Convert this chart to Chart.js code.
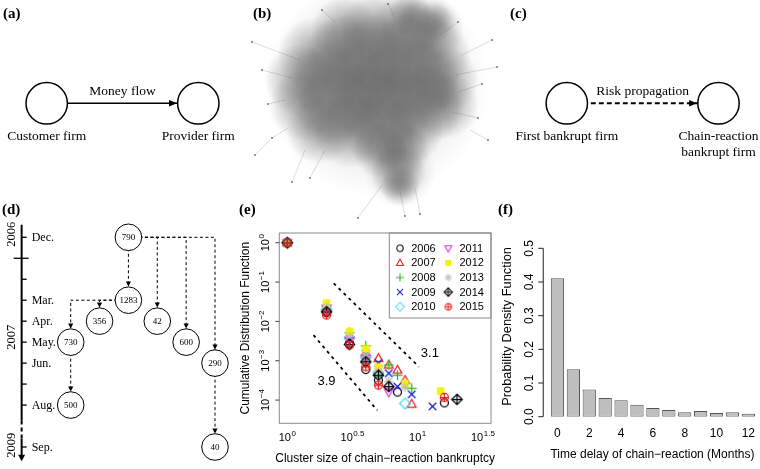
<!DOCTYPE html>
<html>
<head>
<meta charset="utf-8">
<title>Chain-reaction bankruptcy figure</title>
<script src="https://cdn.jsdelivr.net/npm/chart.js@4.4.1/dist/chart.umd.min.js"></script>
<style>
  html, body { margin: 0; padding: 0; background: #ffffff; }
  #fig { position: relative; width: 760px; height: 469px; overflow: hidden; background: #ffffff; }
  #fig canvas { position: absolute; left: 0; top: 0; }
  .panel-label { position: absolute; font: bold 15px "Liberation Serif", "Times New Roman", serif; line-height: 15px; color: #000; white-space: nowrap; }
</style>
</head>
<body>
<div id="fig">
  <canvas id="chartB" width="760" height="469"></canvas>
  <canvas id="chartA" width="760" height="469"></canvas>
  <canvas id="chartC" width="760" height="469"></canvas>
  <canvas id="chartD" width="760" height="469"></canvas>
  <canvas id="chartE" width="760" height="469"></canvas>
  <canvas id="chartF" width="760" height="469"></canvas>
  <div class="panel-label" style="left:3px;top:6px">(a)</div>
  <div class="panel-label" style="left:253px;top:6px">(b)</div>
  <div class="panel-label" style="left:510px;top:6px">(c)</div>
  <div class="panel-label" style="left:2px;top:202px">(d)</div>
  <div class="panel-label" style="left:239px;top:202px">(e)</div>
  <div class="panel-label" style="left:498px;top:202px">(f)</div>
</div>
<script>
// ======================= DATA =======================
// (a) money flow diagram
const moneyNodeNames = [['Customer firm'], ['Provider firm']];
const moneyNodePos = [0, 1];
const moneyEdgeLabel = 'Money flow';

// (c) risk propagation diagram
const riskNodeNames = [['First bankrupt firm'], ['Chain-reaction', 'bankrupt firm']];
const riskNodePos = [0, 1];
const riskEdgeLabel = 'Risk propagation';

// (b) transaction network, approximated as density patches (panel units)
const netHaloX = [147, 170];
const netHaloY = [85, 172];
const netHaloR = [112, 36];
const netCoreX = [115, 145, 175, 200, 85, 115, 145, 175, 205, 70, 100, 130, 160, 190, 215,
                  75, 105, 135, 165, 195, 215, 90, 120, 150, 180, 150, 172, 168, 170, 180, 205];
const netCoreY = [30, 30, 30, 30, 55, 55, 55, 55, 55, 80, 80, 80, 80, 80, 80,
                  105, 105, 105, 105, 105, 105, 130, 130, 130, 130, 150, 150, 172, 186, 15, 22];
const netCoreR = [34, 36, 36, 34, 38, 40, 40, 40, 36, 36, 40, 40, 40, 40, 34,
                  36, 40, 40, 40, 40, 34, 34, 38, 38, 34, 28, 28, 28, 20, 22, 20];
const netSpokeX1 = [70, 62, 225, 228, 222, 58, 75, 152, 170, 185, 105, 165, 210, 55, 40, 240, 95, 232];
const netSpokeY1 = [60, 78, 75, 92, 112, 128, 150, 185, 192, 188, 22, 18, 35, 100, 140, 130, 150, 55];
const netSpokeX2 = [22, 32, 267, 252, 248, 42, 62, 128, 175, 190, 92, 158, 228, 38, 25, 258, 80, 262];
const netSpokeY2 = [42, 70, 67, 84, 118, 138, 182, 218, 216, 214, 10, 4, 22, 104, 155, 140, 178, 40];

// (d) chain of bankruptcies on a time line
const treeIds = ['790', '1283', '356', '42', '730', '600', '290', '500', '40'];
const treeColumn = [2, 2, 1, 3, 0, 4, 5, 0, 5];
const treeMonth = [0, 3, 4, 4, 5, 5, 6, 8, 10];
const treeParent = [-1, 0, 1, 0, 1, 0, 0, 4, 6];
const monthTickPos = [0, 1, 2, 3, 4, 5, 6, 7, 8, 10];
const monthTickLabels = ['Dec.', '', '', 'Mar.', 'Apr.', 'May.', 'Jun.', '', 'Aug.', 'Sep.'];
const yearBoundaryPos = [1];
const yearLabels = ['2006', '2007', '2009'];
const yearLabelPos = [-0.15, 4.77, 9.92];
const timelineBreak = [8.74, 9.6];

// (e) cumulative distribution of cluster sizes
const ccdfYears = ['2006', '2007', '2008', '2009', '2010', '2011', '2012', '2013', '2014', '2015'];
const ccdfSizes = [
  [1, 2, 3, 4, 5, 7, 16],
  [1, 2, 3, 4, 5, 6, 7, 8, 9],
  [1, 2, 3, 4, 6, 7, 9],
  [1, 2, 3, 4, 5, 6, 7, 9, 13],
  [1, 2, 3, 4, 5, 8],
  [1, 2, 3, 4, 6],
  [1, 2, 3, 4, 5, 8, 15],
  [1, 2, 3, 4, 5, 6, 8],
  [1, 2, 3, 4, 5, 6, 20],
  [1, 2, 3, 4, 5, 16]
];
const ccdfValues = [
  [1, 0.017, 0.0028, 0.0006, 0.00032, 0.00016, 0.000085],
  [1, 0.022, 0.0045, 0.0016, 0.00115, 0.00078, 0.00058, 0.00032, 0.000079],
  [1, 0.026, 0.0052, 0.0024, 0.00078, 0.00043, 0.0002],
  [1, 0.019, 0.0035, 0.0015, 0.00088, 0.00048, 0.00022, 0.00014, 0.000069],
  [1, 0.02, 0.0038, 0.0012, 0.0005, 0.000082],
  [1, 0.021, 0.0033, 0.00115, 0.00016],
  [1, 0.029, 0.0055, 0.002, 0.0007, 0.00026, 0.00017],
  [1, 0.023, 0.0042, 0.0013, 0.00052, 0.0003, 0.00021],
  [1, 0.0175, 0.0026, 0.00094, 0.00043, 0.00022, 0.000104],
  [1, 0.0145, 0.0025, 0.0007, 0.00024, 0.000117]
];
const ccdfXTickExp = [0, 0.5, 1, 1.5];
const ccdfYTickExp = [0, -1, -2, -3, -4];
const guideLabels = ['3.1', '3.9'];
const guideX = [[2.27, 10.23], [1.59, 4.9]];
const guideY = [[0.0927, 0.0007], [0.00447, 0.000055]];
const guideLabelX = [12.4, 2.0];
const guideLabelY = [0.00158, 0.000295];

// (f) time delay distribution
const delayMonths = ['0', '1', '2', '3', '4', '5', '6', '7', '8', '9', '10', '11', '12'];
const delayPdf = [0.411, 0.141, 0.081, 0.0556, 0.0487, 0.0357, 0.0258, 0.0198, 0.013, 0.0169, 0.011, 0.013, 0.0089];
const pdfTicks = [0, 0.1, 0.2, 0.3, 0.4, 0.5];

// ======================= STYLE =======================
const SERIF = '"Liberation Serif", "Times New Roman", serif';
const SANS = '"Liberation Sans", Arial, Helvetica, sans-serif';
const yearSymbols = ['circle', 'triangle', 'plus', 'cross', 'diamond', 'itriangle', 'squarex', 'asterisk', 'diamondplus', 'circleplus'];
const yearColors = ['#000000', '#ee1c1c', '#22b822', '#1a1ad8', '#3fe0ee', '#e030e0', '#f2f20a', '#bdbdbd', '#000000', '#ee1c1c'];

function makeSymbol(kind, color, s, lw) {
  const size = Math.ceil(2 * (s * 1.45 + lw + 1));
  const c = document.createElement('canvas');
  c.width = size; c.height = size;
  const g = c.getContext('2d');
  const m = size / 2;
  g.strokeStyle = color; g.fillStyle = color; g.lineWidth = lw;
  const circle = () => { g.beginPath(); g.arc(m, m, s, 0, Math.PI * 2); g.stroke(); };
  const plus = k => { g.beginPath(); g.moveTo(m - k, m); g.lineTo(m + k, m); g.moveTo(m, m - k); g.lineTo(m, m + k); g.stroke(); };
  const cross = k => { g.beginPath(); g.moveTo(m - k, m - k); g.lineTo(m + k, m + k); g.moveTo(m + k, m - k); g.lineTo(m - k, m + k); g.stroke(); };
  const diamond = k => { g.beginPath(); g.moveTo(m, m - k); g.lineTo(m + k, m); g.lineTo(m, m + k); g.lineTo(m - k, m); g.closePath(); g.stroke(); };
  const tri = dir => {
    const h = s * 1.2;
    g.beginPath();
    g.moveTo(m, m - dir * h);
    g.lineTo(m + s * 1.1, m + dir * h * 0.65);
    g.lineTo(m - s * 1.1, m + dir * h * 0.65);
    g.closePath(); g.stroke();
  };
  switch (kind) {
    case 'circle': circle(); break;
    case 'triangle': tri(1); break;
    case 'plus': plus(s * 1.25); break;
    case 'cross': cross(s * 0.95); break;
    case 'diamond': diamond(s * 1.35); break;
    case 'itriangle': tri(-1); break;
    case 'squarex': g.fillRect(m - s * 0.95, m - s * 0.95, 1.9 * s, 1.9 * s); break;
    case 'asterisk': plus(s * 1.15); cross(s * 0.82); break;
    case 'diamondplus': diamond(s * 1.3); plus(s * 1.3); break;
    case 'circleplus': circle(); plus(s); break;
  }
  return c;
}

function padArea(l, t, r, b) {
  return { left: l, top: t, right: 760 - r, bottom: 469 - b };
}
function baseOptions(area, scales) {
  return {
    responsive: false,
    maintainAspectRatio: false,
    animation: false,
    events: [],
    layout: { autoPadding: false, padding: padArea(area[0], area[1], area[2], area[3]) },
    scales: scales,
    plugins: { legend: { display: false }, tooltip: { enabled: false }, title: { display: false } }
  };
}

// ======================= (a) and (c) =======================
const FLOW_R = 20.7;
function flowPlugin(id, names, edgeLabel) {
  return {
    id: id,
    afterDatasetsDraw(chart) {
      const ctx = chart.ctx;
      const pts = chart.getDatasetMeta(1).data;
      const p0 = pts[0], p1 = pts[1];
      ctx.save();
      ctx.fillStyle = '#000';
      const tipX = p1.x - FLOW_R - 0.6;
      ctx.beginPath();
      ctx.moveTo(tipX, p1.y);
      ctx.lineTo(tipX - 8, p1.y - 3.3);
      ctx.lineTo(tipX - 8, p1.y + 3.3);
      ctx.closePath(); ctx.fill();
      ctx.font = '13.5px ' + SERIF;
      ctx.textAlign = 'center'; ctx.textBaseline = 'alphabetic';
      ctx.fillText(edgeLabel, (p0.x + p1.x) / 2, p0.y - 8);
      [p0, p1].forEach((p, i) => {
        names[i].forEach((line, k) => ctx.fillText(line, p.x, p.y + 37 + k * 15.5));
      });
      ctx.restore();
    }
  };
}
function makeFlowChart(id, names, pos, edgeLabel, dashed, area) {
  return new Chart(document.getElementById(id), {
    type: 'scatter',
    data: {
      datasets: [
        { data: pos.map(v => ({ x: v, y: 0 })), showLine: true, borderColor: '#000',
          borderWidth: dashed ? 2 : 1.5, borderDash: dashed ? [5, 3] : [], pointRadius: 0, order: 2, clip: false },
        { data: pos.map(v => ({ x: v, y: 0 })), pointRadius: FLOW_R, pointBorderWidth: 1.5,
          pointBorderColor: '#000', pointBackgroundColor: '#fff', order: 1, clip: false }
      ]
    },
    options: baseOptions(area, {
      x: { type: 'linear', display: false, min: 0, max: 1 },
      y: { type: 'linear', display: false, min: -1, max: 1 }
    }),
    plugins: [flowPlugin(id + 'Text', names, edgeLabel)]
  });
}
makeFlowChart('chartA', moneyNodeNames, moneyNodePos, moneyEdgeLabel, false, [46.7, 93.3, 198.3, 113.3]);
makeFlowChart('chartC', riskNodeNames, riskNodePos, riskEdgeLabel, true, [566.8, 93.3, 718.5, 113.3]);

// ======================= (b) =======================
function blobFill(alpha) {
  return function (c) {
    const chart = c.chart, raw = c.raw;
    const solid = 'rgba(78,78,78,' + alpha + ')';
    if (!raw || !chart.scales.x || !chart.scales.y) return solid;
    const cx = chart.scales.x.getPixelForValue(raw.x);
    const cy = chart.scales.y.getPixelForValue(raw.y);
    if (!isFinite(cx) || !isFinite(cy)) return solid;
    const g = chart.ctx.createRadialGradient(cx, cy, 0, cx, cy, raw.r);
    g.addColorStop(0, solid);
    g.addColorStop(0.35, 'rgba(78,78,78,' + (alpha * 0.8) + ')');
    g.addColorStop(1, 'rgba(78,78,78,0)');
    return g;
  };
}
const spokeSets = netSpokeX1.map((x1, i) => ({
  type: 'scatter',
  data: [{ x: x1, y: netSpokeY1[i] }, { x: netSpokeX2[i], y: netSpokeY2[i] }],
  showLine: true, borderColor: 'rgba(140,140,140,0.5)', borderWidth: 0.6,
  pointRadius: [0, 1], pointBackgroundColor: 'rgba(90,90,90,0.8)', pointBorderWidth: 0,
  order: 5, clip: false
}));
new Chart(document.getElementById('chartB'), {
  type: 'bubble',
  data: {
    datasets: [
      { data: netHaloX.map((x, i) => ({ x: x, y: netHaloY[i], r: netHaloR[i] })),
        backgroundColor: blobFill(0.22), borderWidth: 0, order: 3, clip: false },
      { data: netCoreX.map((x, i) => ({ x: x, y: netCoreY[i], r: netCoreR[i] })),
        backgroundColor: blobFill(0.42), borderWidth: 0, order: 2, clip: false }
    ].concat(spokeSets)
  },
  options: baseOptions([230, 0, 500, 225], {
    x: { type: 'linear', display: false, min: 0, max: 270 },
    y: { type: 'linear', display: false, min: 0, max: 225, reverse: true }
  })
});

// ======================= (d) =======================
const TREE_R = 13.3;
const TIMELINE_COL = -1.7;
const treePlugin = {
  id: 'treeAxis',
  afterDatasetsDraw(chart) {
    const ctx = chart.ctx;
    const xs = chart.scales.x, ys = chart.scales.y;
    const ax = xs.getPixelForValue(TIMELINE_COL);
    const py = v => ys.getPixelForValue(v);
    ctx.save();
    ctx.strokeStyle = '#000'; ctx.fillStyle = '#000';
    ctx.lineWidth = 2;
    ctx.beginPath(); ctx.moveTo(ax, py(-0.6)); ctx.lineTo(ax, py(timelineBreak[0])); ctx.stroke();
    ctx.setLineDash([4, 3]);
    ctx.beginPath(); ctx.moveTo(ax, py(timelineBreak[0])); ctx.lineTo(ax, py(timelineBreak[1])); ctx.stroke();
    ctx.setLineDash([]);
    const tip = py(10.68);
    ctx.beginPath(); ctx.moveTo(ax, py(timelineBreak[1])); ctx.lineTo(ax, tip - 5); ctx.stroke();
    ctx.beginPath(); ctx.moveTo(ax, tip); ctx.lineTo(ax - 3.5, tip - 6.5); ctx.lineTo(ax + 3.5, tip - 6.5); ctx.closePath(); ctx.fill();
    ctx.lineWidth = 1.3;
    ctx.font = '12px ' + SERIF;
    monthTickPos.forEach((m, i) => {
      const yy = py(m);
      const boundary = yearBoundaryPos.indexOf(m) >= 0;
      ctx.beginPath();
      ctx.moveTo(boundary ? ax - 8 : ax, yy);
      ctx.lineTo(ax + (boundary ? 7 : 5), yy);
      ctx.stroke();
      if (monthTickLabels[i]) {
        ctx.textAlign = 'left'; ctx.textBaseline = 'middle';
        ctx.fillText(monthTickLabels[i], ax + 10, yy + 0.5);
      }
    });
    ctx.font = '12.5px ' + SERIF;
    yearLabels.forEach((t, i) => {
      ctx.save();
      ctx.translate(ax - 7, py(yearLabelPos[i]));
      ctx.rotate(-Math.PI / 2);
      ctx.textAlign = 'center'; ctx.textBaseline = 'alphabetic';
      ctx.fillText(t, 0, 0);
      ctx.restore();
    });
    const nodes = chart.getDatasetMeta(0).data;
    ctx.font = '9px ' + SERIF;
    ctx.textAlign = 'center'; ctx.textBaseline = 'middle';
    nodes.forEach((pt, i) => {
      ctx.fillText(treeIds[i], pt.x, pt.y + 0.5);
      if (treeParent[i] >= 0) {
        const tipY = pt.y - TREE_R - 0.3;
        ctx.beginPath();
        ctx.moveTo(pt.x, tipY);
        ctx.lineTo(pt.x - 2.6, tipY - 5);
        ctx.lineTo(pt.x + 2.6, tipY - 5);
        ctx.closePath(); ctx.fill();
      }
    });
    ctx.restore();
  }
};
const treeEdgeSets = treeIds.map((_, i) => i).filter(i => treeParent[i] >= 0).map(i => {
  const p = treeParent[i];
  return {
    type: 'scatter',
    data: [{ x: treeColumn[p], y: treeMonth[p] }, { x: treeColumn[i], y: treeMonth[p] }, { x: treeColumn[i], y: treeMonth[i] }],
    showLine: true, borderColor: '#000', borderWidth: 1, borderDash: [3, 2.5],
    pointRadius: 0, order: 2, clip: false, tension: 0
  };
});
new Chart(document.getElementById('chartD'), {
  type: 'scatter',
  data: {
    datasets: [
      { data: treeIds.map((_, i) => ({ x: treeColumn[i], y: treeMonth[i] })), pointRadius: TREE_R,
        pointBorderWidth: 1, pointBorderColor: '#000', pointBackgroundColor: '#fff', order: 1, clip: false }
    ].concat(treeEdgeSets)
  },
  options: baseOptions([70.7, 237.3, 215, 447], {
    x: { type: 'linear', display: false, min: 0, max: 5 },
    y: { type: 'linear', display: false, min: 0, max: 10, reverse: true }
  }),
  plugins: [treePlugin]
});

// ======================= (e) =======================
const dataSymbols = yearSymbols.map((k, i) => makeSymbol(k, yearColors[i], 4.0, 1.25));
const legendSymbols = yearSymbols.map((k, i) => makeSymbol(k, yearColors[i], 3.2, 1.05));

function drawPow(ctx, x, y, e, rotated) {
  const base = '10';
  const exp = e < 0 ? '\u2212' + Math.abs(e) : String(e);
  ctx.save();
  ctx.translate(x, y);
  if (rotated) ctx.rotate(-Math.PI / 2);
  ctx.fillStyle = '#000';
  ctx.textAlign = 'left'; ctx.textBaseline = 'alphabetic';
  ctx.font = '11px ' + SANS;
  const wb = ctx.measureText(base).width;
  ctx.font = '8px ' + SANS;
  const we = ctx.measureText(exp).width;
  const start = -(wb + we + 0.5) / 2;
  ctx.font = '11px ' + SANS;
  ctx.fillText(base, start, 0);
  ctx.font = '8px ' + SANS;
  ctx.fillText(exp, start + wb + 0.5, -5.5);
  ctx.restore();
}

const ePlugin = {
  id: 'ccdfAxes',
  afterDraw(chart) {
    const ctx = chart.ctx;
    const a = chart.chartArea;
    const xs = chart.scales.x, ys = chart.scales.y;
    ctx.save();
    ctx.strokeStyle = '#8a8a8a'; ctx.lineWidth = 1;
    ctx.strokeRect(a.left, a.top, a.right - a.left, a.bottom - a.top);
    ctx.strokeStyle = '#444';
    ccdfYTickExp.forEach(e => {
      const yy = ys.getPixelForValue(Math.pow(10, e));
      ctx.beginPath(); ctx.moveTo(a.left, yy); ctx.lineTo(a.left - 4, yy); ctx.stroke();
      drawPow(ctx, a.left - 10.3, yy, e, true);
    });
    ccdfXTickExp.forEach(e => {
      drawPow(ctx, xs.getPixelForValue(Math.pow(10, e)), a.bottom + 17.7, e, false);
    });
    ctx.fillStyle = '#000';
    ctx.font = '13px ' + SANS;
    ctx.textAlign = 'center'; ctx.textBaseline = 'middle';
    guideLabels.forEach((t, i) => {
      ctx.fillText(t, xs.getPixelForValue(guideLabelX[i]), ys.getPixelForValue(guideLabelY[i]));
    });
    // legend
    const lgL = a.right - 101.7, lgT = a.top, lgB = a.top + 85;
    ctx.strokeStyle = '#8a8a8a';
    ctx.strokeRect(lgL, lgT, a.right - lgL, lgB - lgT);
    ctx.font = '11px ' + SANS;
    ctx.textAlign = 'left'; ctx.textBaseline = 'middle';
    ccdfYears.forEach((yr, i) => {
      const col = Math.floor(i / 5), row = i % 5;
      const sx = lgL + 10.7 + col * 48.3;
      const sy = lgT + 15.3 + row * 14.6;
      const img = legendSymbols[i];
      ctx.drawImage(img, sx - img.width / 2, sy - img.height / 2);
      ctx.fillText(yr, sx + 11.2, sy + 0.5);
    });
    // titles
    ctx.font = '12px ' + SANS;
    ctx.textAlign = 'center'; ctx.textBaseline = 'alphabetic';
    ctx.fillText('Cluster size of chain\u2212reaction bankruptcy', (a.left + a.right) / 2, a.bottom + 38.7);
    ctx.save();
    ctx.translate(a.left - 30.3, (a.top + a.bottom) / 2);
    ctx.rotate(-Math.PI / 2);
    ctx.fillText('Cumulative Distribution Function', 0, 0);
    ctx.restore();
    ctx.restore();
  }
};
const guideSets = guideX.map((gx, i) => ({
  type: 'scatter',
  data: [{ x: gx[0], y: guideY[i][0] }, { x: gx[1], y: guideY[i][1] }],
  showLine: true, borderColor: '#000', borderWidth: 1.8, borderDash: [3, 4],
  pointRadius: 0, order: 20, clip: false
}));
const yearSets = ccdfYears.map((yr, i) => ({
  label: yr,
  data: ccdfSizes[i].map((s, j) => ({ x: s, y: ccdfValues[i][j] })),
  pointStyle: dataSymbols[i], pointRadius: 4.5, order: 11 - i, clip: false
}));
new Chart(document.getElementById('chartE'), {
  type: 'scatter',
  data: { datasets: guideSets.concat(yearSets) },
  options: baseOptions([279.3, 233, 491, 423.3], {
    x: { type: 'logarithmic', display: false, bounds: 'data', min: Math.pow(10, -0.061), max: Math.pow(10, 1.562) },
    y: { type: 'logarithmic', display: false, bounds: 'data', min: Math.pow(10, -4.59), max: Math.pow(10, 0.247) }
  }),
  plugins: [ePlugin]
});

// ======================= (f) =======================
const fPlugin = {
  id: 'pdfAxes',
  afterDraw(chart) {
    const ctx = chart.ctx;
    const xs = chart.scales.x, ys = chart.scales.y;
    const catW = xs.getPixelForValue(1) - xs.getPixelForValue(0);
    const ax = xs.getPixelForValue(0) - 0.893 * catW;
    const y0 = ys.getPixelForValue(0);
    ctx.save();
    ctx.strokeStyle = '#222'; ctx.fillStyle = '#000'; ctx.lineWidth = 1;
    ctx.beginPath();
    ctx.moveTo(ax, ys.getPixelForValue(pdfTicks[0]));
    ctx.lineTo(ax, ys.getPixelForValue(pdfTicks[pdfTicks.length - 1]));
    ctx.stroke();
    ctx.font = '12px ' + SANS;
    ctx.textAlign = 'center'; ctx.textBaseline = 'alphabetic';
    pdfTicks.forEach(v => {
      const yy = ys.getPixelForValue(v);
      ctx.beginPath(); ctx.moveTo(ax, yy); ctx.lineTo(ax - 5, yy); ctx.stroke();
      ctx.save();
      ctx.translate(ax - 10, yy);
      ctx.rotate(-Math.PI / 2);
      ctx.fillText(v.toFixed(1), 0, 0);
      ctx.restore();
    });
    delayMonths.forEach((m, i) => {
      if (i % 2 === 0) ctx.fillText(m, xs.getPixelForValue(i), y0 + 20);
    });
    ctx.fillText('Time delay of chain\u2212reaction (Months)', ax + 109.2, y0 + 41.5);
    ctx.save();
    ctx.font = '12.8px ' + SANS;
    ctx.translate(ax - 32.3, ys.getPixelForValue(0.268));
    ctx.rotate(-Math.PI / 2);
    ctx.fillText('Probability Density Function', 0, 0);
    ctx.restore();
    ctx.restore();
  }
};
new Chart(document.getElementById('chartF'), {
  type: 'bar',
  data: {
    labels: delayMonths,
    datasets: [{
      data: delayPdf, backgroundColor: '#bebebe', borderColor: '#555555', borderWidth: 1,
      barPercentage: 1 / 1.2, categoryPercentage: 1, borderSkipped: false
    }]
  },
  options: baseOptions([549.5, 248.3, 756.3, 416.7], {
    x: { type: 'category', display: false, offset: true },
    y: { type: 'linear', display: false, min: 0, max: 0.5 }
  }),
  plugins: [fPlugin]
});
</script>
</body>
</html>
